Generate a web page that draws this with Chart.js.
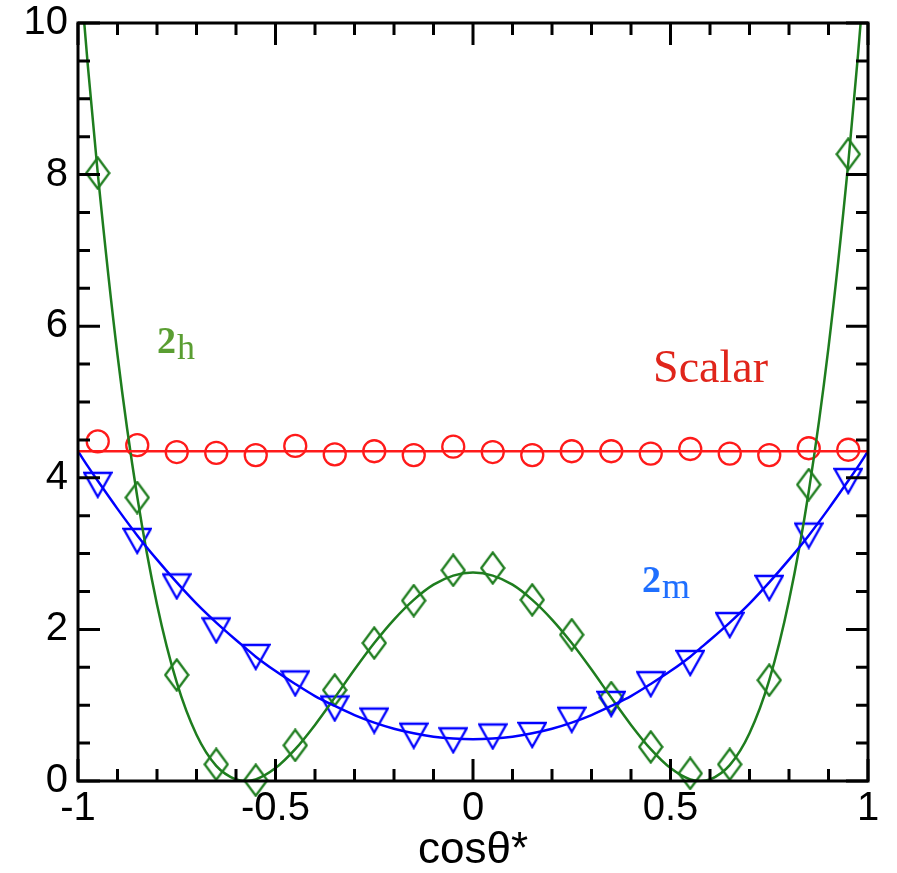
<!DOCTYPE html>
<html>
<head>
<meta charset="utf-8">
<script src="https://cdn.jsdelivr.net/npm/chart.js@4.4.1/dist/chart.umd.min.js"></script>
<style>
  html, body { margin: 0; padding: 0; background: #fff; }
  #wrap { width: 897px; height: 873px; position: relative; }
</style>
</head>
<body>
<div id="wrap"><canvas id="c"></canvas></div>
<script>
// ---- tick definitions ----
const xTicks = [-1, -0.5, 0, 0.5, 1];
const xMinorTicks = [-0.9, -0.8, -0.7, -0.6, -0.4, -0.3, -0.2, -0.1, 0.1, 0.2, 0.3, 0.4, 0.6, 0.7, 0.8, 0.9];
const yTicks = [0, 2, 4, 6, 8, 10];
const yMinorTicks = [0.5, 1, 1.5, 2.5, 3, 3.5, 4.5, 5, 5.5, 6.5, 7, 7.5, 8.5, 9, 9.5];
const xTitle = 'cosθ*';

// ---- marker data (cosθ* bin centres) ----
const markerX = [-0.95, -0.85, -0.75, -0.65, -0.55, -0.45, -0.35, -0.25, -0.15, -0.05,
                 0.05, 0.15, 0.25, 0.35, 0.45, 0.55, 0.65, 0.75, 0.85, 0.95];
const scalarPts = [4.48, 4.43, 4.34, 4.33, 4.30, 4.42, 4.31, 4.35, 4.30, 4.41,
                   4.34, 4.30, 4.35, 4.35, 4.32, 4.38, 4.32, 4.30, 4.39, 4.37];
const pts2m = [3.96, 3.22, 2.62, 2.04, 1.69, 1.34, 1.01, 0.85, 0.65, 0.59,
               0.64, 0.66, 0.86, 1.07, 1.33, 1.61, 2.11, 2.60, 3.29, 4.01];
const pts2h = [8.02, 3.74, 1.40, 0.22, 0.01, 0.47, 1.20, 1.82, 2.38, 2.78,
               2.81, 2.39, 1.93, 1.10, 0.45, 0.10, 0.22, 1.33, 3.91, 8.27];

// ---- fitted curves ----
const fitX = [-1, -0.975, -0.95, -0.9, -0.85, -0.8, -0.75, -0.7, -0.65, -0.6, -0.575, -0.55,
              -0.5, -0.45, -0.4, -0.35, -0.3, -0.25, -0.2, -0.15, -0.1, -0.05, 0,
              0.05, 0.1, 0.15, 0.2, 0.25, 0.3, 0.35, 0.4, 0.45, 0.5,
              0.55, 0.575, 0.6, 0.65, 0.7, 0.75, 0.8, 0.85, 0.9, 0.95, 0.975, 1];
const fit2h = [11.0, 9.43, 8.02, 5.62, 3.75, 2.33, 1.30, 0.61, 0.20, 0.02, 0.0, 0.02,
               0.17, 0.42, 0.74, 1.10, 1.47, 1.82, 2.13, 2.39, 2.59, 2.71, 2.75,
               2.71, 2.59, 2.39, 2.13, 1.82, 1.47, 1.10, 0.74, 0.42, 0.17,
               0.02, 0.0, 0.02, 0.21, 0.63, 1.33, 2.38, 3.82, 5.72, 8.15, 9.6, 11.2];
const fit2m = [4.35, 4.15, 3.96, 3.59, 3.24, 2.92, 2.62, 2.34, 2.09, 1.86, 1.75, 1.64,
               1.45, 1.28, 1.12, 0.99, 0.87, 0.77, 0.69, 0.63, 0.585, 0.56, 0.55,
               0.56, 0.585, 0.63, 0.69, 0.77, 0.87, 0.99, 1.12, 1.28, 1.45,
               1.64, 1.75, 1.86, 2.09, 2.34, 2.62, 2.92, 3.24, 3.59, 3.96, 4.15, 4.35];
const scalarFitX = [-1, 1];
const scalarFit = [4.35, 4.35];

// ---- annotation labels ----
const labels = [
  { main: '2', sub: 'h', x: -0.8, y: 5.65, color: '#5a9e32' },
  { main: '2', sub: 'm', x: 0.428, y: 2.49, color: '#1f6fff' },
  { text: 'Scalar', x: 0.456, y: 5.27, color: '#e0251b' }
];

const GREEN = '#1e7d1e', BLUE = '#0000ff', RED = '#ff1a1a';

function pts(xs, ys) { return xs.map((v, i) => ({ x: v, y: ys[i] })); }

function diamondCanvas(color) {
  const c = document.createElement('canvas');
  c.width = 26; c.height = 34;
  const g = c.getContext('2d');
  g.strokeStyle = color; g.lineWidth = 2.3;
  g.beginPath();
  g.moveTo(13, 1.5); g.lineTo(24.5, 17); g.lineTo(13, 32.5); g.lineTo(1.5, 17); g.closePath();
  g.stroke();
  return c;
}
function triDownCanvas(color) {
  const c = document.createElement('canvas');
  c.width = 30; c.height = 36;
  const g = c.getContext('2d');
  g.strokeStyle = color; g.lineWidth = 2.3;
  g.beginPath();
  // centroid at canvas centre (15,18): top edge 8 above, apex 16 below
  g.moveTo(1.5, 10); g.lineTo(28.5, 10); g.lineTo(15, 34); g.closePath();
  g.stroke();
  return c;
}

const framePlugin = {
  id: 'frame',
  afterDatasetsDraw(chart) {
    const { ctx, chartArea: a, scales: { x, y } } = chart;
    ctx.save();
    ctx.strokeStyle = '#000';
    ctx.lineWidth = 3;
    ctx.lineCap = 'butt';
    ctx.beginPath();
    const xt = (v, L) => {
      const p = x.getPixelForValue(v);
      ctx.moveTo(p, a.bottom); ctx.lineTo(p, a.bottom - L);
      ctx.moveTo(p, a.top); ctx.lineTo(p, a.top + L);
    };
    const yt = (v, L) => {
      const p = y.getPixelForValue(v);
      ctx.moveTo(a.left, p); ctx.lineTo(a.left + L, p);
      ctx.moveTo(a.right, p); ctx.lineTo(a.right - L, p);
    };
    xTicks.forEach(v => xt(v, 22));
    xMinorTicks.forEach(v => xt(v, 12));
    yTicks.forEach(v => yt(v, 22));
    yMinorTicks.forEach(v => yt(v, 12));
    ctx.stroke();
    ctx.strokeRect(a.left, a.top, a.right - a.left, a.bottom - a.top);
    ctx.restore();
  },
  afterDraw(chart) {
    const { ctx, scales: { x, y } } = chart;
    ctx.save();
    ctx.textBaseline = 'alphabetic';
    ctx.textAlign = 'left';
    labels.forEach(l => {
      const px = x.getPixelForValue(l.x), py = y.getPixelForValue(l.y);
      ctx.fillStyle = l.color;
      if (l.text) {
        ctx.font = '46px "Liberation Serif"';
        ctx.fillText(l.text, px, py);
      } else {
        ctx.font = 'bold 38px "Liberation Serif"';
        ctx.fillText(l.main, px, py);
        const w = ctx.measureText(l.main).width;
        ctx.font = '36px "Liberation Serif"';
        ctx.fillText(l.sub, px + w + 1, py + 6);
      }
    });
    ctx.restore();
  }
};

const tickFont = { family: '"Liberation Sans", Arial, sans-serif', size: 40, lineHeight: 1 };
const titleFont = { family: '"Liberation Sans", Arial, sans-serif', size: 44, lineHeight: 1 };

new Chart(document.getElementById('c'), {
  type: 'scatter',
  data: {
    datasets: [
      { data: pts(scalarFitX, scalarFit), showLine: true, borderColor: RED, borderWidth: 2.5, pointRadius: 0 },
      { data: pts(fitX, fit2m), showLine: true, borderColor: BLUE, borderWidth: 2.5, pointRadius: 0, cubicInterpolationMode: 'monotone' },
      { data: pts(fitX, fit2h), showLine: true, borderColor: GREEN, borderWidth: 2.5, pointRadius: 0, cubicInterpolationMode: 'monotone' },
      { data: pts(markerX, scalarPts), showLine: false, pointStyle: 'circle', pointRadius: 11, borderColor: RED, backgroundColor: 'rgba(0,0,0,0)', borderWidth: 2.3, clip: false },
      { data: pts(markerX, pts2m), showLine: false, pointStyle: triDownCanvas(BLUE), pointRadius: 12, clip: false },
      { data: pts(markerX, pts2h), showLine: false, pointStyle: diamondCanvas(GREEN), pointRadius: 12, clip: false }
    ]
  },
  options: {
    responsive: true,
    maintainAspectRatio: false,
    animation: false,
    events: [],
    layout: { padding: { top: 23, right: 29, left: 0, bottom: 0 } },
    plugins: { legend: { display: false }, tooltip: { enabled: false } },
    scales: {
      x: {
        type: 'linear', min: -1, max: 1,
        grid: { display: false }, border: { display: false },
        afterBuildTicks: s => { s.ticks = xTicks.map(v => ({ value: v })); },
        afterFit: s => { s.height = 92; s.paddingLeft = 0; s.paddingRight = 0; },
        ticks: { font: tickFont, color: '#000', padding: 0, maxRotation: 0, autoSkip: false, callback: v => String(v) },
        title: { display: true, text: xTitle, font: titleFont, color: '#000', padding: { top: 0, bottom: 0 } }
      },
      y: {
        type: 'linear', min: 0, max: 10,
        grid: { display: false }, border: { display: false },
        afterBuildTicks: s => { s.ticks = yTicks.map(v => ({ value: v })); },
        afterFit: s => { s.width = 78; s.paddingTop = 0; s.paddingBottom = 0; },
        ticks: { font: tickFont, color: '#000', padding: 2, autoSkip: false, callback: v => String(v) }
      }
    }
  },
  plugins: [framePlugin]
});
</script>
</body>
</html>
